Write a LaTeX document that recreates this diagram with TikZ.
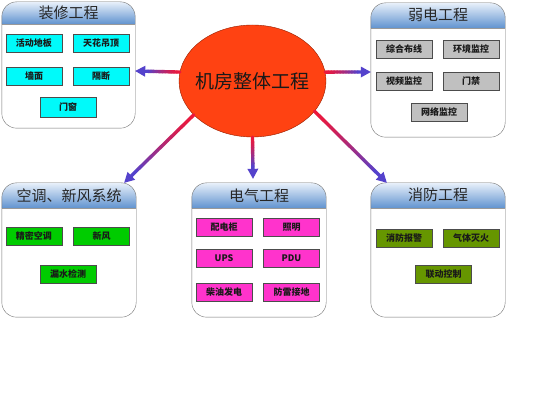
\documentclass[tikz,border=0pt]{standalone}
\usepackage{fontspec}
\newfontfamily\cjk{Noto Sans CJK SC}
\usetikzlibrary{shapes,positioning,calc}

\definecolor{headtop}{RGB}{232,240,250}
\definecolor{headbot}{RGB}{98,148,208}
\definecolor{hubfill}{RGB}{255,66,18}
\definecolor{hubline}{RGB}{150,30,0}
\definecolor{linkred}{RGB}{236,24,60}
\definecolor{linkblue}{RGB}{84,66,204}
\definecolor{itemcyan}{RGB}{0,250,250}
\definecolor{itemgray}{RGB}{192,192,192}
\definecolor{itemgreen}{RGB}{0,204,0}
\definecolor{itempink}{RGB}{255,51,204}
\definecolor{itemolive}{RGB}{102,150,0}

% panel: name, centre, width, height, title, header height
\newcommand{\panel}[6]{%
  \node[panelbox, minimum width=#3pt, minimum height=#4pt] (#1) at (#2) {};
  \begin{scope}
    \clip[rounded corners=15pt] (#1.north west) rectangle (#1.south east);
    \shade[top color=headtop, bottom color=headbot]
      (#1.north west) rectangle ([yshift=-#6pt]#1.north east);
  \end{scope}
  \draw[gray!80] ([yshift=-#6pt]#1.north west) -- ([yshift=-#6pt]#1.north east);
  \draw[gray!90!black, rounded corners=15pt] (#1.north west) rectangle (#1.south east);
  \node[paneltitle] (#1-t) at ([yshift={-0.5*#6pt}]#1.north) {#5};
}

% gradient arrow between two points
\newcommand{\gradlink}[2]{%
  \coordinate (gl-s) at (#1);
  \coordinate (gl-e) at (#2);
  \coordinate (gl-h) at ($(gl-e)!10pt!(gl-s)$);
  \foreach \k in {0,...,11}{%
    \pgfmathtruncatemacro\mixval{100-100*(\k/11)^1.4}
    \draw[link, linkred!\mixval!linkblue] ($(gl-s)!\k/12!(gl-h)$) -- ($(gl-s)!{(\k+1)/12}!(gl-h)$);
  }
  \fill[linkblue] (gl-e) -- ($(gl-h)!5.5pt!90:(gl-e)$) -- ($(gl-h)!5.5pt!-90:(gl-e)$) -- cycle;
}

\begin{document}
\begin{tikzpicture}[x=1pt, y=-1pt,
    every node/.style={font=\cjk},
    panelbox/.style={rectangle, fill=white, inner sep=0pt},
    paneltitle/.style={font=\cjk\fontsize{15}{17}\selectfont, text=black!85},
    link/.style={line width=3.4pt, line cap=round},
    item/.style={draw=black!70, minimum width=56pt, minimum height=18pt, inner sep=0pt,
      font=\cjk\bfseries\fontsize{9}{10}\selectfont, text=black!90},
    zxitem/.style={item, fill=itemcyan},
    rditem/.style={item, fill=itemgray},
    ktitem/.style={item, fill=itemgreen},
    dqitem/.style={item, fill=itempink},
    xfitem/.style={item, fill=itemolive}
  ]

  \fill[white] (0,0) rectangle (549,403);
  \useasboundingbox (0,0) rectangle (549,403);

  % Panels
  \panel{zx}{68.5,65}{133}{126}{装修工程}{22}
  \panel{rd}{438,70}{134}{134}{弱电工程}{25}
  \panel{kt}{69,250}{134}{134}{空调、新风系统}{25}
  \panel{dq}{259,250}{134}{134}{电气工程}{25}
  \panel{xf}{438,250}{134}{134}{消防工程}{25}

  % Items
  \node[zxitem] (zx-a) at (34,43) {活动地板};
  \node[zxitem] (zx-b) at (101,43) {天花吊顶};
  \node[zxitem] (zx-c) at (34,76) {墙面};
  \node[zxitem] (zx-d) at (101,76) {隔断};
  \node[zxitem, minimum height=20pt] (zx-e) at (68,107) {门窗};

  \node[rditem] (rd-a) at (404,49.5) {综合布线};
  \node[rditem] (rd-b) at (471,49.5) {环境监控};
  \node[rditem] (rd-c) at (404,81) {视频监控};
  \node[rditem] (rd-d) at (471,81) {门禁};
  \node[rditem] (rd-e) at (439,112) {网络监控};

  \node[ktitem] (kt-a) at (34,236) {精密空调};
  \node[ktitem] (kt-b) at (101.5,236) {新风};
  \node[ktitem] (kt-c) at (68,274) {漏水检测};

  \node[dqitem] (dq-a) at (224,227.5) {配电柜};
  \node[dqitem] (dq-b) at (291.5,227.5) {照明};
  \node[dqitem] (dq-c) at (224,258.5) {UPS};
  \node[dqitem] (dq-d) at (291.5,258.5) {PDU};
  \node[dqitem] (dq-e) at (224,292.5) {柴油发电};
  \node[dqitem] (dq-f) at (291.5,292.5) {防雷接地};

  \node[xfitem] (xf-a) at (404,238) {消防报警};
  \node[xfitem] (xf-b) at (471,238) {气体灭火};
  \node[xfitem] (xf-c) at (443.5,274) {联动控制};

  % Hub
  \node[ellipse, draw=hubline, fill=hubfill, minimum width=147pt, minimum height=112pt,
    inner sep=0pt] (hub) at (252.5,81) {};
  \node[font=\cjk\fontsize{19}{21}\selectfont, text=black!90] (hub-t) at (hub) {机房整体工程};

  % Links
  \gradlink{hub.173}{[yshift=-6pt]zx.east}
  \gradlink{hub.7}{[yshift=-2pt]rd.west}
  \gradlink{hub.210}{[xshift=-12pt]kt.north east}
  \gradlink{hub.south}{[xshift=-6pt,yshift=4pt]dq.north}
  \gradlink{hub.334}{[xshift=16pt]xf.north west}

\end{tikzpicture}
\end{document}
